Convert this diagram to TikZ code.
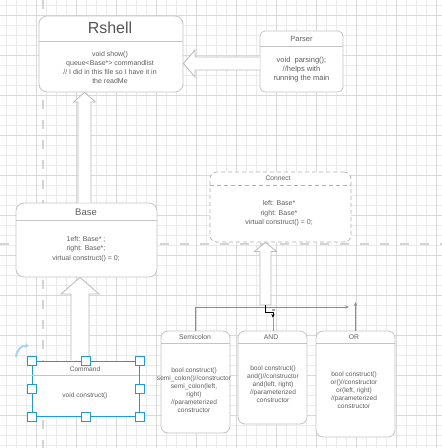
\documentclass[tikz,border=0pt]{standalone}
\usepackage{fontspec}
\setmainfont{Liberation Sans}
\usetikzlibrary{calc,arrows.meta}
\definecolor{gminor}{HTML}{EBEBEB}
\definecolor{gmajor}{HTML}{D9D9D9}
\definecolor{pagebrk}{HTML}{D4D4D4}
\definecolor{boxline}{HTML}{C4C4C4}
\definecolor{txt}{HTML}{5E5E5E}
\definecolor{selblue}{HTML}{1E9BD7}
\definecolor{rotblue}{HTML}{A9D2F2}
\tikzset{
  box/.style={draw=boxline, fill=white, line width=0.8pt, inner sep=0pt},
  dashbox/.style={draw=boxline!90!black, fill=white, line width=0.7pt, dash pattern=on 4pt off 3pt, inner sep=0pt},
  sepline/.style={draw=boxline, line width=0.8pt},
  ttl/.style={text=txt, inner sep=0pt, anchor=center},
  body/.style={text=txt, inner sep=0pt, align=center, anchor=center},
  flex/.style={draw=boxline!95!black, fill=white, line width=0.8pt, line join=miter},
  conn/.style={draw=gray!80, line width=0.6pt},
  tipgray/.style={-{Stealth[length=4pt,width=3.2pt]}, },
  handle/.style={draw=selblue, fill=white, line width=0.9pt, minimum size=9pt, inner sep=0pt},
  minorg/.style={draw=gminor, line width=0.6pt},
  majorg/.style={draw=gmajor, line width=0.8pt},
  pagebreak/.style={draw=pagebrk, line width=2pt, dash pattern=on 9pt off 11pt}
}
\begin{document}
\begin{tikzpicture}[x=1pt,y=-1pt]
\useasboundingbox (0,0) rectangle (442,448);
\fill[white] (0,0) rectangle (442,448);
% grid
\foreach \x in {6,16,...,440} \draw[minorg] (\x,0) -- (\x,448);
\foreach \y in {5,15,...,447} \draw[minorg] (0,\y) -- (442,\y);
\foreach \x in {36,76,...,440} \draw[majorg] (\x,0) -- (\x,448);
\foreach \y in {15,55,...,447} \draw[majorg] (0,\y) -- (442,\y);
% page breaks
\draw[pagebreak] (43,0) -- (43,448);
\draw[pagebreak] (0,244) -- (442,244);

% ---------- Rshell ----------
\node[box, rounded corners=8pt, minimum width=144pt, minimum height=76pt] (rshell) at (111,54) {};
\draw[sepline] ($(rshell.north west)+(0,26)$) -- ($(rshell.north east)+(0,26)$);
\node[ttl, font=\fontsize{16}{18}\selectfont, text=txt!90!black] (rshellT) at (110,28) {Rshell};
\node[body, font=\fontsize{7}{9.2}\selectfont] (rshellB) at (110,67.5) {void show()\\queue<Base*> commandlist\\//  I did in this file so I have it in\\the readMe};

% ---------- Parser ----------
\node[box, rounded corners=5pt, minimum width=83pt, minimum height=61pt] (parser) at (301.5,61.5) {};
\draw[sepline] ($(parser.north west)+(0,16)$) -- ($(parser.north east)+(0,16)$);
\node[ttl, font=\fontsize{7.5}{9}\selectfont] (parserT) at (301.5,38.5) {Parser};
\node[body, font=\fontsize{7.5}{9}\selectfont] (parserB) at (301.5,69.5) {void\ \ parsing();\\//helps with\\running the main};

% ---------- Base ----------
\node[box, rounded corners=8pt, minimum width=141pt, minimum height=74pt] (base) at (86.5,240) {};
\draw[sepline] ($(base.north west)+(0,18)$) -- ($(base.north east)+(0,18)$);
\node[ttl, font=\fontsize{9.5}{11}\selectfont] (baseT) at (86,212) {Base};
\node[body, font=\fontsize{7}{9.5}\selectfont] (baseB) at (86,249) {1eft: Base* ;\\right: Base*;\\virtual construct() = 0;};

% ---------- Connect ----------
\node[dashbox, rounded corners=7pt, minimum width=141pt, minimum height=70pt] (connect) at (280.5,207) {};
\draw[boxline!90!black, line width=0.7pt, dash pattern=on 4pt off 3pt] ($(connect.north west)+(0,13.5)$) -- ($(connect.north east)+(0,13.5)$);
\node[ttl, font=\fontsize{6.7}{8}\selectfont] (connectT) at (278,178.5) {Connect};
\node[body, font=\fontsize{7}{9.5}\selectfont] (connectB) at (279,213.5) {left: Base*\\right: Base*\\virtual construct() = 0;};

% ---------- Semicolon ----------
\node[box, rounded corners=7pt, minimum width=69pt, minimum height=102pt] (semi) at (195.5,382) {};
\draw[sepline] ($(semi.north west)+(0,13)$) -- ($(semi.north east)+(0,13)$);
\node[ttl, font=\fontsize{6.8}{8}\selectfont] (semiT) at (195,337.5) {Semicolon};
\node[body, font=\fontsize{6.6}{8}\selectfont] (semiB) at (194,390) {bool construct()\\semi\_colon()//constructor\\semi\_colon(left,\\right)\\//parameterized\\constructor};

% ---------- AND ----------
\node[box, rounded corners=7pt, minimum width=69pt, minimum height=93pt] (and) at (272.5,377.5) {};
\draw[sepline] ($(and.north west)+(0,13)$) -- ($(and.north east)+(0,13)$);
\node[ttl, font=\fontsize{6.8}{8}\selectfont] (andT) at (271,337.5) {AND};
\node[body, font=\fontsize{6.6}{8}\selectfont] (andB) at (273,384) {bool construct()\\and()//constructor\\and(left, right)\\//parameterized\\constructor};

% ---------- OR ----------
\node[box, rounded corners=7pt, minimum width=79pt, minimum height=106pt] (or) at (355.5,384) {};
\draw[sepline] ($(or.north west)+(0,13)$) -- ($(or.north east)+(0,13)$);
\node[ttl, font=\fontsize{6.8}{8}\selectfont] (orT) at (354,337.5) {OR};
\node[body, font=\fontsize{6.6}{8}\selectfont] (orB) at (354,390) {bool construct()\\or()//constructor\\or(left, right)\\//parameterized\\constructor};

% ---------- Command (selected) ----------
\node[draw=selblue, fill=white, line width=0.9pt, minimum width=107pt, minimum height=55pt, inner sep=0pt] (command) at (85.5,388.5) {};
\draw[sepline] ($(command.north west)+(0.6,15)$) -- ($(command.north east)+(-0.6,15)$);
\node[ttl, font=\fontsize{6.6}{8}\selectfont] (commandT) at (85,369) {Command};
\node[body, font=\fontsize{6.6}{8}\selectfont] (commandB) at (85,396) {void construct()};

% ---------- block arrows ----------
% Parser -> Rshell
\draw[flex] ($(parser.west)+(0,-4.5)$) -- (195,57) -- (195,50) -- ($(rshell.east)+(0,9.5)$) -- (195,77) -- (195,70) -- ($(parser.west)+(0,8.5)$);
% Base -> Rshell
\draw[flex] ($(base.north)+(-8.5,0)$) -- (78,102) -- (73.5,102) -- ($(rshell.south)+(-26.5,0)$) -- (95.5,102) -- (91,102) -- ($(base.north)+(4.5,0)$);
% Command -> Base
\draw[flex] ($(command.north)+(-14.5,-0.5)$) -- (71,294) -- (61,294) -- ($(base.south)+(-6.5,0)$) -- (99,294) -- (89,294) -- ($(command.north)+(3.5,-0.5)$);
% AND -> Connect
\coordinate (a4t) at (265.5,305);
\draw[flex] (260,305) -- (260,251.5) -- (254.5,251.5) -- ($(connect.south)+(-15,0)$) -- (276.5,251.5) -- (271,251.5) -- (271,305) -- cycle;

% ---------- thin connectors ----------
\coordinate (c1end) at (349,307);
\draw[conn, -{Stealth[length=4pt,width=3.2pt]}, color=gray!90] (semi.north) |- (c1end);
\coordinate (c2end) at (355.5,302);
\draw[conn, -{Stealth[length=4pt,width=3.2pt]}, color=gray!90] (or.north) -- (c2end);
\coordinate (c3) at (273,318);
\draw[black, line width=0.6pt, -{Stealth[length=4pt,width=3.2pt]}] (a4t) -- (265.5,312) -- (273,312) -- (c3);
\draw[conn] (c3) -- (c3 |- and.north);
\fill[gray!70] (271.5,308.5) rectangle (274.5,311);

% ---------- selection handles ----------
\node[handle] (h1) at (command.north west) {};
\node[handle] (h2) at (command.north) {};
\node[handle] (h3) at (command.north east) {};
\node[handle] (h4) at (command.west) {};
\node[handle] (h5) at (command.east) {};
\node[handle] (h6) at (command.south west) {};
\node[handle] (h7) at (command.south) {};
\node[handle] (h8) at (command.south east) {};
% rotation handle
\coordinate (rotA) at (16,357);
\coordinate (rotB) at (29,346);
\draw[rotblue, line width=2pt, -{Stealth[length=4pt,width=5pt]}] (rotA) .. controls (17,349) and (22,345) .. (rotB);
\end{tikzpicture}
\end{document}
